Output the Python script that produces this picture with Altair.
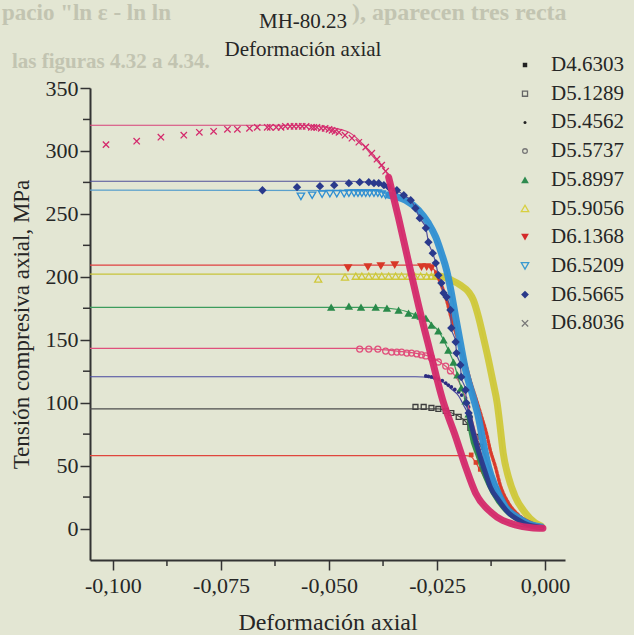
import altair as alt
import pandas as pd

FONT = "Liberation Serif"
BG = "#e3e6d3"
INK = "#262626"

# ---------------- data ----------------
names = ["D4.6303", "D5.1289", "D5.4562", "D5.5737", "D5.8997",
         "D5.9056", "D6.1368", "D6.5209", "D6.5665", "D6.8036"]
levels = [57.9, 95.0, 120.6, 143.2, 175.7, 202.1, 209.3, 268.8, 275.9, 320.4]

x_ticks = [-0.100, -0.075, -0.050, -0.025, 0.000]
x_minor = [-0.0875, -0.0625, -0.0375, -0.0125]
y_ticks = [0, 50, 100, 150, 200, 250, 300, 350]
y_minor = [25, 75, 125, 175, 225, 275, 325]

# faint show-through text of the scanned page
ghost_top = ['pacio "ln ε - ln ln', '), aparecen tres recta', "las figuras 4.32 a 4.34."]

# D4.6303
d46_fit_x = [-0.0185, -0.0171, -0.0160, -0.0143, -0.0124, -0.0104, -0.0085, -0.0062, -0.0032, -0.0009]
d46_fit_y = [57.9, 57.0, 52.0, 42.0, 31.0, 21.5, 14.5, 8.5, 3.8, 1.2]
d46_mark_x = [-0.0171, -0.0160, -0.0150]
d46_mark_y = [58.5, 52.5, 47.0]

# D5.1289
d51_fit_x = [-0.0300, -0.0247, -0.0217, -0.0184, -0.0161, -0.0143, -0.0127, -0.0108, -0.0085, -0.0062, -0.0032, -0.0007]
d51_fit_y = [95.0, 95.0, 92.0, 85.0, 73.0, 61.0, 47.0, 32.0, 18.5, 9.0, 3.0, 0.8]
d51_mark_x = [-0.0300, -0.0281, -0.0263, -0.0247, -0.0230, -0.0217, -0.0200, -0.0184, -0.0173, -0.0161, -0.0150]
d51_mark_y = [96.6, 96.6, 95.8, 95.0, 93.4, 91.8, 88.7, 84.7, 80.0, 72.8, 64.8]

# D5.4562
d54_fit_x = [-0.0300, -0.0263, -0.0247, -0.0230, -0.0217, -0.0200, -0.0189, -0.0177, -0.0166, -0.0154,
             -0.0138, -0.0120, -0.0097, -0.0069, -0.0039, -0.0009]
d54_fit_y = [120.6, 119.6, 118.0, 114.8, 110.9, 105.3, 98.2, 90.2, 78.3, 64.8, 49.0, 34.7, 20.4, 10.1, 4.5, 1.3]
d54_mark_x = [-0.0276, -0.0270, -0.0263, -0.0256, -0.0247, -0.0238, -0.0230, -0.0224, -0.0217, -0.0209,
              -0.0200, -0.0193, -0.0184, -0.0177, -0.0171]
d54_mark_y = [121.2, 120.9, 120.4, 119.6, 118.8, 117.6, 115.6, 114.0, 112.5, 110.5, 108.5, 106.0, 103.7, 96.6, 88.7]

# D5.5737
d55_fit_x = [-0.0440, -0.0369, -0.0343, -0.0309, -0.0286, -0.0263, -0.0247, -0.0230, -0.0219, -0.0200,
             -0.0182, -0.0166, -0.0150, -0.0131, -0.0108, -0.0085, -0.0062, -0.0032, -0.0007]
d55_fit_y = [143.2, 142.0, 141.0, 139.8, 138.5, 136.0, 133.0, 129.0, 125.5, 117.0, 102.0, 83.0, 62.0, 42.0,
             24.0, 13.0, 6.5, 2.5, 0.8]
d55_mark_x = [-0.0429, -0.0408, -0.0387, -0.0369, -0.0355, -0.0343, -0.0332, -0.0320, -0.0309, -0.0297,
              -0.0286, -0.0276, -0.0263, -0.0247, -0.0230, -0.0219]
d55_mark_y = [142.6, 142.6, 142.6, 141.0, 140.2, 140.2, 140.2, 139.4, 139.4, 138.7, 137.9, 137.1, 135.5,
              132.3, 129.1, 125.2]

# D5.8997
d58_fit_x = [-0.0400, -0.0339, -0.0316, -0.0300, -0.0276, -0.0263, -0.0247, -0.0235, -0.0224, -0.0212,
             -0.0203, -0.0194, -0.0184, -0.0177, -0.0171, -0.0154, -0.0138, -0.0120, -0.0092, -0.0062,
             -0.0035, -0.0009]
d58_fit_y = [175.7, 174.0, 171.8, 169.8, 167.2, 162.5, 157.0, 149.8, 141.8, 132.3, 122.0, 111.7, 101.4,
             91.0, 76.0, 56.9, 41.0, 28.3, 14.8, 6.9, 2.9, 1.3]
d58_mark_x = [-0.0495, -0.0454, -0.0426, -0.0392, -0.0366, -0.0339, -0.0316, -0.0300, -0.0288, -0.0276,
              -0.0263, -0.0247, -0.0235, -0.0224, -0.0212, -0.0203, -0.0194, -0.0184, -0.0177]
d58_mark_y = [175.9, 176.7, 175.9, 175.9, 175.2, 173.6, 171.2, 169.6, 168.8, 167.2, 161.7, 157.0, 149.8,
              141.8, 132.3, 122.0, 111.7, 101.4, 91.0]
d58_band_x = [-0.0177, -0.0171, -0.0154, -0.0138, -0.0120, -0.0092, -0.0062, -0.0035, -0.0009]
d58_band_y = [91.0, 76.0, 56.9, 41.0, 28.3, 14.8, 6.9, 2.9, 1.3]

# D5.9056
d59_fit_x = [-0.0300, -0.0247, -0.0217, -0.0196, -0.0177, -0.0166, -0.0154, -0.0143, -0.0131, -0.0120,
             -0.0111, -0.0104, -0.0097, -0.0085, -0.0069, -0.0046, -0.0023, -0.0009]
d59_fit_y = [202.1, 200.6, 197.4, 193.4, 187.9, 181.5, 168.0, 152.1, 133.9, 115.6, 99.8, 80.7, 60.1, 41.0,
             25.2, 12.5, 4.5, 2.1]
d59_mark_x = [-0.0525, -0.0463, -0.0438, -0.0424, -0.0408, -0.0392, -0.0378, -0.0362, -0.0346, -0.0332,
              -0.0316, -0.0302, -0.0288, -0.0274, -0.0263, -0.0253]
d59_mark_y = [198.2, 199.8, 200.5, 200.5, 200.5, 200.5, 200.5, 200.5, 200.5, 200.5, 200.5, 200.5, 200.5,
              200.5, 200.5, 200.5]
d59_band_x = [-0.0253, -0.0247, -0.0217, -0.0196, -0.0177, -0.0166, -0.0154, -0.0143, -0.0131, -0.0120,
              -0.0111, -0.0104, -0.0097, -0.0085, -0.0069, -0.0046, -0.0023, -0.0009]
d59_band_y = [200.5, 200.6, 197.4, 193.4, 187.9, 181.5, 168.0, 152.1, 133.9, 115.6, 99.8, 80.7, 60.1, 41.0,
              25.2, 12.5, 4.5, 2.1]

# D6.1368
d61_fit_x = [-0.0290, -0.0263, -0.0253, -0.0240, -0.0228, -0.0217, -0.0205, -0.0194, -0.0182, -0.0171,
             -0.0159, -0.0147, -0.0136, -0.0127, -0.0115, -0.0104, -0.0085, -0.0062, -0.0032, -0.0009]
d61_fit_y = [209.3, 207.5, 203.7, 193.4, 181.5, 167.2, 153.7, 141.8, 128.3, 114.8, 102.1, 88.7, 76.0, 62.5,
             49.0, 34.7, 20.4, 10.9, 4.5, 1.3]
d61_mark_x = [-0.0456, -0.0410, -0.0380, -0.0348, -0.0286, -0.0274, -0.0263]
d61_mark_y = [206.9, 207.7, 208.5, 209.3, 207.7, 207.7, 206.9]
d61_band_x = d61_fit_x[2:]
d61_band_y = d61_fit_y[2:]

# D6.5209
d65a_fit_x = [-0.0385, -0.0362, -0.0323, -0.0293, -0.0270, -0.0253, -0.0240, -0.0228, -0.0219, -0.0207,
              -0.0196, -0.0184, -0.0166, -0.0154, -0.0143, -0.0131, -0.0115, -0.0092, -0.0062, -0.0032, -0.0009]
d65a_fit_y = [268.5, 264.8, 260.9, 253.0, 242.6, 231.5, 218.8, 205.3, 191.0, 168.0, 147.4, 126.0, 103.7,
              87.9, 68.0, 49.0, 33.1, 17.2, 8.5, 2.9, 1.3]
d65a_mark_x = [-0.0565, -0.0539, -0.0516, -0.0498, -0.0482, -0.0465, -0.0454, -0.0442, -0.0433, -0.0424,
               -0.0415, -0.0406, -0.0396, -0.0387, -0.0378, -0.0369]
d65a_mark_y = [263.9, 264.8, 265.6, 266.0, 266.0, 266.0, 266.4, 266.4, 266.4, 266.4, 266.4, 266.4, 266.4,
               266.4, 265.6, 264.8]
d65a_band_x = d65a_fit_x[1:]
d65a_band_y = d65a_fit_y[1:]

# D6.5665
d65b_fit_x = [-0.0454, -0.0408, -0.0385, -0.0373, -0.0362, -0.0343, -0.0327, -0.0311, -0.0300, -0.0290,
              -0.0276, -0.0270, -0.0260, -0.0253, -0.0247, -0.0240, -0.0235, -0.0228, -0.0219, -0.0217,
              -0.0207, -0.0205, -0.0196, -0.0194, -0.0184, -0.0182, -0.0177, -0.0166, -0.0150, -0.0138,
              -0.0127, -0.0108, -0.0085, -0.0062, -0.0039, -0.0016, -0.0007]
d65b_fit_y = [275.9, 275.2, 274.4, 272.8, 271.2, 268.8, 264.8, 260.9, 254.5, 246.6, 238.7, 227.5, 218.8,
              210.9, 201.3, 195.0, 187.1, 183.9, 173.6, 159.3, 148.2, 139.4, 129.9, 120.4, 110.1, 99.8, 91.8,
              76.0, 56.9, 44.2, 33.1, 22.8, 12.5, 6.9, 2.9, 1.3, 0.8]
d65b_mark_x = [-0.0654, -0.0574, -0.0521, -0.0488, -0.0454, -0.0429, -0.0408, -0.0396, -0.0385, -0.0373,
               -0.0362, -0.0343, -0.0327, -0.0311, -0.0300, -0.0290, -0.0276, -0.0270, -0.0260, -0.0253,
               -0.0247, -0.0240, -0.0235, -0.0228, -0.0219, -0.0217, -0.0207, -0.0205, -0.0196, -0.0194,
               -0.0184, -0.0182, -0.0177]
d65b_mark_y = [268.8, 271.2, 272.0, 272.8, 274.4, 275.2, 275.2, 274.4, 274.4, 272.8, 271.2, 268.8, 264.8,
               260.9, 254.5, 246.6, 238.7, 227.5, 218.8, 210.9, 201.3, 195.0, 187.1, 183.9, 173.6, 159.3,
               148.2, 139.4, 129.9, 120.4, 110.1, 99.8, 91.8]
d65b_band_x = [-0.0177, -0.0166, -0.0150, -0.0138, -0.0127, -0.0108, -0.0085, -0.0062, -0.0039, -0.0016, -0.0007]
d65b_band_y = [91.8, 76.0, 56.9, 44.2, 33.1, 22.8, 12.5, 6.9, 2.9, 1.3, 0.8]

# D6.8036
d68_fit_x = [-0.0550, -0.0500, -0.0454, -0.0424, -0.0401, -0.0380, -0.0362, -0.0339, -0.0316, -0.0293,
             -0.0267, -0.0237, -0.0207, -0.0184, -0.0161, -0.0124, -0.0069, -0.0032, -0.0005]
d68_fit_y = [320.4, 318.8, 314.8, 306.1, 296.6, 288.7, 279.1, 246.6, 211.7, 177.5, 141.8, 102.1, 72.8, 49.0,
             28.3, 12.5, 2.9, 0.6, 0.2]
d68_mark_x = [-0.1016, -0.0945, -0.0889, -0.0836, -0.0800, -0.0767, -0.0735, -0.0712, -0.0684, -0.0666,
              -0.0643, -0.0636, -0.0622, -0.0611, -0.0601, -0.0590, -0.0581, -0.0571, -0.0562, -0.0553,
              -0.0541, -0.0535, -0.0528, -0.0518, -0.0509, -0.0500, -0.0493, -0.0486, -0.0477, -0.0463,
              -0.0447, -0.0431, -0.0415, -0.0401, -0.0389, -0.0378, -0.0369]
d68_mark_y = [305.0, 307.7, 310.9, 312.5, 314.8, 315.6, 317.2, 317.2, 318.0, 318.8, 318.8, 318.8, 318.8,
              318.8, 319.6, 319.6, 319.6, 319.6, 319.6, 319.6, 318.8, 318.8, 318.8, 318.0, 318.0, 317.2,
              316.4, 315.6, 314.8, 312.5, 310.1, 306.9, 303.0, 298.2, 293.4, 288.7, 283.9]
d68_band_x = d68_fit_x[6:]
d68_band_y = d68_fit_y[6:]

# ---------------- styling ----------------
fit_colors = ["#e0463c", "#4d4d4d", "#4848a0", "#e0507c", "#3c9c5c",
              "#c8c43a", "#e04040", "#5aa0cc", "#50509a", "#d8407a"]
mark_colors = ["#d9402a", "#3d3d3d", "#2c2c80", "#e0507c", "#2a8a4a",
               "#cfc83a", "#d83828", "#2f8fd2", "#2a3a8c", "#d42a6c"]
XPATH = "M-1,-1L1,1M-1,1L1,-1"

series = [
    (d46_fit_x, d46_fit_y, d46_mark_x, d46_mark_y, None, None, "square", True, 22, 0, None),
    (d51_fit_x, d51_fit_y, d51_mark_x, d51_mark_y, None, None, "square", False, 24, 0, None),
    (d54_fit_x, d54_fit_y, d54_mark_x, d54_mark_y, None, None, "circle", True, 14, 0, None),
    (d55_fit_x, d55_fit_y, d55_mark_x, d55_mark_y, None, None, "circle", False, 36, 0, None),
    (d58_fit_x, d58_fit_y, d58_mark_x, d58_mark_y, d58_band_x, d58_band_y, "triangle-up", True, 70, 5, None),
    (d59_fit_x, d59_fit_y, d59_mark_x, d59_mark_y, d59_band_x, d59_band_y, "triangle-up", False, 50, 7, None),
    (d61_fit_x, d61_fit_y, d61_mark_x, d61_mark_y, d61_band_x, d61_band_y, "triangle-down", True, 80, 3.5, [2, 2]),
    (d65a_fit_x, d65a_fit_y, d65a_mark_x, d65a_mark_y, d65a_band_x, d65a_band_y, "triangle-down", False, 55, 7, None),
    (d65b_fit_x, d65b_fit_y, d65b_mark_x, d65b_mark_y, d65b_band_x, d65b_band_y, "diamond", True, 70, 5, None),
    (d68_fit_x, d68_fit_y, d68_mark_x, d68_mark_y, d68_band_x, d68_band_y, XPATH, False, 40, 7, None),
]

X_MIN, X_MAX = -0.1053, 0.0046
Y_MIN, Y_MAX = -25, 350
W, H = 475, 472
LEFT, TOP = 90, 88

xscale = alt.Scale(domain=[X_MIN, X_MAX], nice=False, zero=False)
yscale = alt.Scale(domain=[Y_MIN, Y_MAX], nice=False, zero=False)

x_axis = alt.Axis(
    values=x_ticks,
    labelExpr="(datum.value < -0.0000001 ? '-' : '') + replace(format(abs(datum.value), '.3f'), '.', ',')",
    title="Deformación axial", tickSize=10, tickWidth=1.5, tickColor="#333",
    domainColor="#333", domainWidth=2, labelFont=FONT, labelFontSize=22, labelColor=INK,
    labelPadding=5, titleFont=FONT, titleFontSize=24, titleFontWeight="normal", titleColor=INK,
    titlePadding=14, grid=False,
)
y_axis = alt.Axis(
    values=y_ticks, title="Tensión compresiva axial, MPa", tickSize=10, tickWidth=1.5,
    tickColor="#333", domainColor="#333", domainWidth=2, labelFont=FONT, labelFontSize=22,
    labelColor=INK, labelPadding=2, titleFont=FONT, titleFontSize=23, titleFontWeight="normal",
    titleColor=INK, titlePadding=12, grid=False,
)

XE = alt.X("x:Q", scale=xscale, axis=x_axis)
YE = alt.Y("y:Q", scale=yscale, axis=y_axis)


def frame(xs, ys):
    return pd.DataFrame({"x": list(xs), "y": list(ys), "i": list(range(len(xs)))})


layers = []

# faint show-through text (page behind the scan), placed in page pixels
ghost_pos = [(2, 13, 23), (352, 13, 24), (12, 62, 21)]
for txt, (gx, gy, fs) in zip(ghost_top, ghost_pos):
    layers.append(alt.Chart(pd.DataFrame({"t": [txt]})).mark_text(
        font=FONT, fontSize=fs, fontWeight="bold", color="#c2c4b1", align="left", baseline="middle").encode(
        x=alt.value(gx - LEFT), y=alt.value(gy - TOP), text="t:N"))

# minor ticks
layers.append(alt.Chart(pd.DataFrame({"x": x_minor})).mark_rule(color="#333", strokeWidth=1.5).encode(
    x=XE, y=alt.value(H), y2=alt.value(H + 6)))
layers.append(alt.Chart(pd.DataFrame({"y": y_minor})).mark_rule(color="#333", strokeWidth=1.5).encode(
    y=YE, x=alt.value(0), x2=alt.value(-7)))

for k, (fx, fy, mx, my, bx, by, shape, filled, size, bw, dash) in enumerate(series):
    lx = [X_MIN] + list(fx)
    ly = [levels[k]] + list(fy)
    layers.append(alt.Chart(frame(lx, ly)).mark_line(
        color=fit_colors[k], strokeWidth=1.2, interpolate="monotone").encode(x=XE, y=YE, order="i:Q"))
    if bx is not None:
        kw = dict(color=mark_colors[k], strokeWidth=bw, strokeCap="round", strokeJoin="round",
                  opacity=0.95, interpolate="monotone")
        if dash:
            kw["strokeDash"] = dash
        layers.append(alt.Chart(frame(bx, by)).mark_line(**kw).encode(x=XE, y=YE, order="i:Q"))
    pkw = dict(shape=shape, filled=filled, size=size, color=mark_colors[k], opacity=1)
    if not filled:
        pkw["strokeWidth"] = 1.3
    layers.append(alt.Chart(frame(mx, my)).mark_point(**pkw).encode(x=XE, y=YE))

# legend
leg_shapes = ["square", "square", "circle", "circle", "triangle-up", "triangle-up",
              "triangle-down", "triangle-down", "diamond", XPATH]
leg_filled = [True, False, True, False, True, False, True, False, True, False]
leg_sizes = [20, 26, 9, 22, 60, 55, 60, 55, 60, 40]
leg_colors = ["#222222", "#666666", "#222222", "#777777", "#2e8b4f",
              "#d8d040", "#d42a2a", "#3a9ad0", "#2a3a8a", "#777777"]
LEG_X, LEG_TX, LEG_Y0, LEG_DY = 435, 461, -23, 28.7
for k, nm in enumerate(names):
    yy = LEG_Y0 + k * LEG_DY
    pkw = dict(shape=leg_shapes[k], filled=leg_filled[k], size=leg_sizes[k], color=leg_colors[k], opacity=1)
    if not leg_filled[k]:
        pkw["strokeWidth"] = 1.3
    layers.append(alt.Chart(pd.DataFrame({"t": [nm]})).mark_point(**pkw).encode(
        x=alt.value(LEG_X), y=alt.value(yy)))
    layers.append(alt.Chart(pd.DataFrame({"t": [nm]})).mark_text(
        font=FONT, fontSize=21, color=INK, align="left", baseline="middle").encode(
        x=alt.value(LEG_TX), y=alt.value(yy), text="t:N"))

# titles
for txt, yy in [("MH-80.23", -66), ("Deformación axial", -38)]:
    layers.append(alt.Chart(pd.DataFrame({"t": [txt]})).mark_text(
        font=FONT, fontSize=21, color=INK, align="center", baseline="middle").encode(
        x=alt.value(213), y=alt.value(yy), text="t:N"))

chart = alt.layer(*layers).properties(
    width=W, height=H,
    padding={"left": LEFT, "top": TOP, "right": 634 - LEFT - W, "bottom": 635 - TOP - H},
    autosize=alt.AutoSizeParams(type="none"),
    background=BG,
).configure_view(strokeWidth=0)

chart.save("out.html", embed_options={"renderer": "svg", "actions": False})
